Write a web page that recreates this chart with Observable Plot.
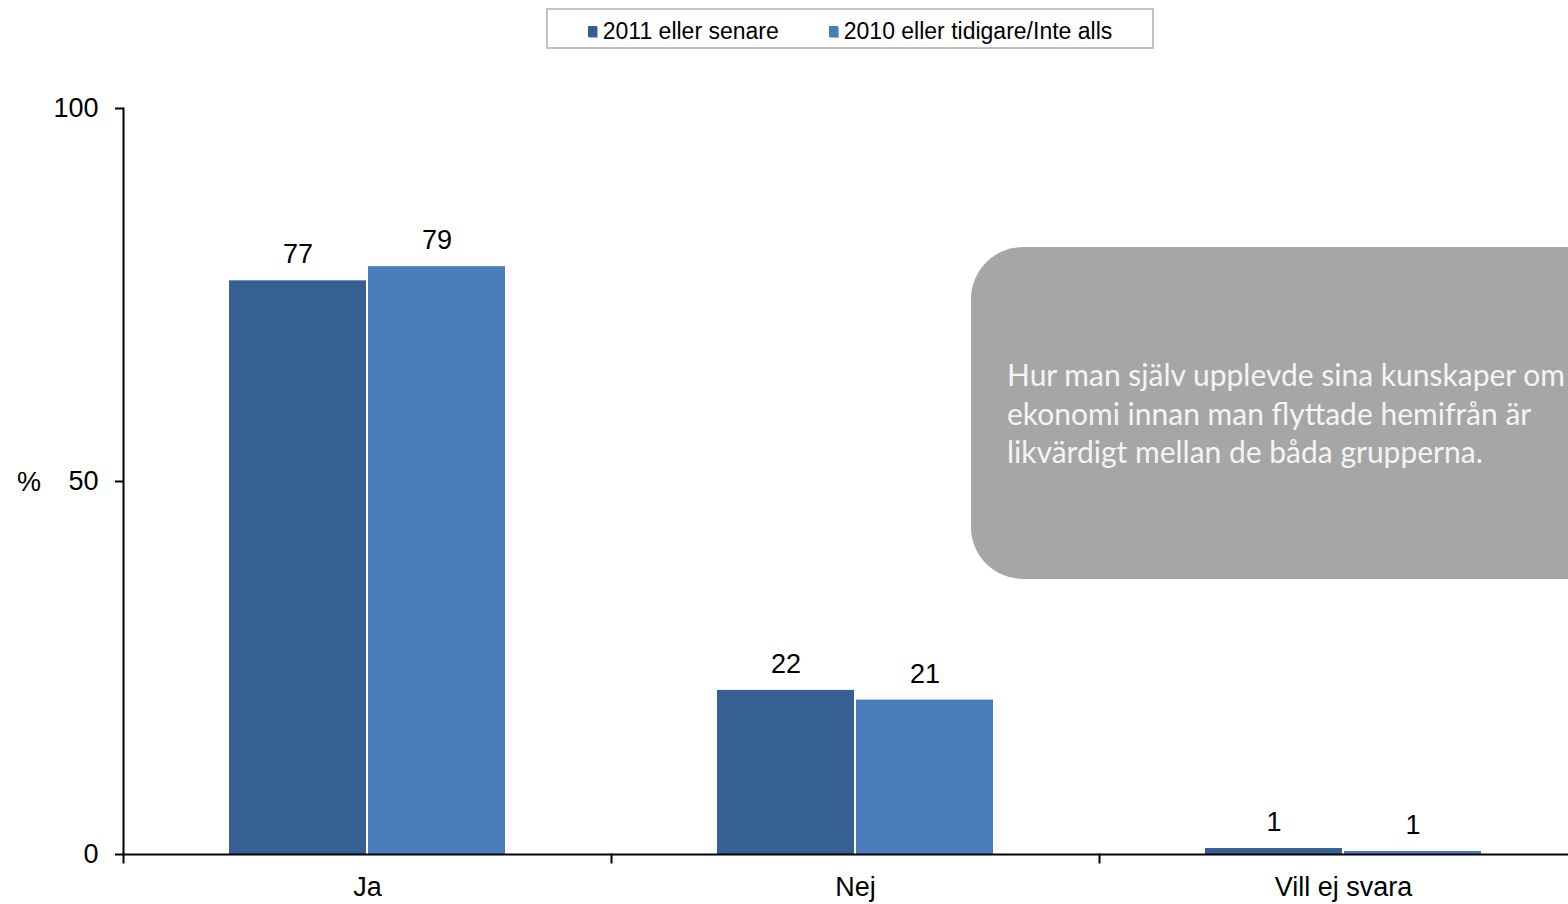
<!DOCTYPE html>
<html>
<head>
<meta charset="utf-8">
<script src="https://cdn.jsdelivr.net/npm/d3@7"></script>
<script src="https://cdn.jsdelivr.net/npm/@observablehq/plot@0.6"></script>
<style>
  html, body { margin: 0; padding: 0; background: #fff; overflow: hidden; }
  #wrap { position: relative; width: 1568px; height: 904px; overflow: hidden; font-family: "Liberation Sans", Arial, sans-serif; }
  #chart { position: absolute; left: 0; top: 0; width: 1587px; }
  #legend { position: absolute; left: 546px; top: 8px; width: 604px; height: 37px; border: 2px solid #c3c3c3; display: flex; align-items: center; justify-content: center; gap: 50px; font-size: 23px; color: #000; background: #fff; box-sizing: content-box; padding-top: 0; }
  #legend .item { display: flex; align-items: center; white-space: nowrap; position: relative; top: 3px; }
  .sw { width: 9px; height: 11px; margin-right: 6px; box-shadow: 1px 1px 0 #9db3d6; }
  #ylab { position: absolute; left: 17px; top: 467px; font-size: 27px; }
  #note { position: absolute; left: 971px; top: 247px; width: 720px; height: 332px; background: #a6a6a6; border-radius: 52px; display: flex; align-items: center; box-sizing: border-box; padding-left: 36px; color: #f4f4f4; font-family: Lato, "Open Sans", sans-serif; font-size: 30px; line-height: 38.5px; white-space: nowrap; }
</style>
</head>
<body>
<div id="wrap">
  <div id="chart"></div>
  <div id="legend"></div>
  <div id="ylab">%</div>
  <div id="note"></div>
</div>
<script>
const categories = ["Ja", "Nej", "Vill ej svara"];
const series = ["2011 eller senare", "2010 eller tidigare/Inte alls"];
const values2011 = [76.9, 22.0, 0.8];
const values2010 = [78.8, 20.7, 0.4];
const labels2011 = ["77", "22", "1"];
const labels2010 = ["79", "21", "1"];
const colors = ["#376092", "#4a7ebb"];
const noteLines = [
  "Hur man själv upplevde sina kunskaper om",
  "ekonomi innan man flyttade hemifrån är",
  "likvärdigt mellan de båda grupperna."
];

const data = categories.flatMap((c, i) => [
  {cat: c, series: series[0], value: values2011[i], label: labels2011[i]},
  {cat: c, series: series[1], value: values2010[i], label: labels2010[i]}
]);

const H = 904, MT = 108, MB = 50;

const plot = Plot.plot({
  width: 1587,
  height: H,
  marginTop: MT,
  marginBottom: MB,
  marginLeft: 123,
  marginRight: 0,
  style: {fontFamily: "'Liberation Sans', Arial, sans-serif", fontSize: "27px", color: "#000", background: "transparent", overflow: "visible", maxWidth: "none"},
  fx: {domain: categories, padding: 0, label: null},
  x: {domain: series, paddingInner: 0.015, paddingOuter: 0.76, axis: null},
  y: {domain: [0, 100], label: null},
  color: {domain: series, range: colors},
  marks: [
    Plot.barY(data, {fx: "cat", x: "series", y: "value", fill: "series"}),
    Plot.text(data, {fx: "cat", x: "series", y: "value", text: "label", dy: -26, fontSize: 27, fill: "#000"}),
    Plot.ruleY([0], {stroke: "#000", strokeWidth: 2}),
    Plot.frame({anchor: "left", facetAnchor: "left", stroke: "#000", strokeWidth: 2}),
    Plot.frame({anchor: "left", stroke: "#000", strokeWidth: 2, insetTop: H - MT - MB, insetBottom: -8}),
    Plot.axisY({ticks: [0, 50, 100], tickSize: 8, tickPadding: 17, fontSize: 27, strokeWidth: 2, label: null}),
    Plot.axisFx({anchor: "bottom", tickSize: 0, tickPadding: 22, fontSize: 27, label: null})
  ]
});
document.getElementById("chart").appendChild(plot);

const legend = document.getElementById("legend");
series.forEach((s, i) => {
  const it = document.createElement("div");
  it.className = "item";
  const sw = document.createElement("span");
  sw.className = "sw";
  sw.style.background = colors[i];
  const t = document.createElement("span");
  t.textContent = s;
  it.appendChild(sw);
  it.appendChild(t);
  legend.appendChild(it);
});

document.getElementById("note").innerHTML = "<div>" + noteLines.join("<br>") + "</div>";
</script>
</body>
</html>
